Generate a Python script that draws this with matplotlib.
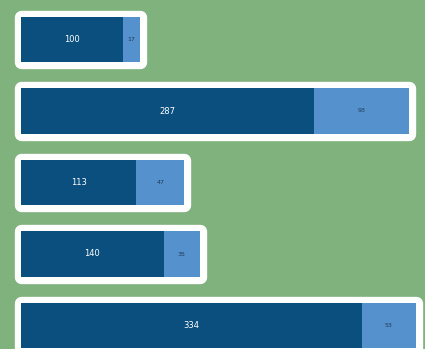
import numpy as np
import matplotlib
matplotlib.use("Agg")
import matplotlib.pyplot as plt

# values
main_vals = [100, 287, 113, 140, 334]
extra_vals = [17, 93, 47, 35, 53]

BG = "#80b27d"
DARK = "#0a4f7e"
LIGHT = "#5591cc"

W, H, DPI = 425, 349, 100
fig = plt.figure(figsize=(W / DPI, H / DPI), dpi=DPI, facecolor=BG)
ax = fig.add_axes([0, 0, 1, 1])
ax.set_facecolor(BG)

y = np.arange(len(main_vals))
main = np.array(main_vals, dtype=float)
extra = np.array(extra_vals, dtype=float)
total = main + extra
bar_h = 0.63

# white rounded frame behind each bar
ax.barh(y, total, height=bar_h, color="white", edgecolor="white",
        linewidth=9.6, joinstyle="round", zorder=1)

ax.barh(y, main, height=bar_h, color=DARK, linewidth=0, zorder=2)
ax.barh(y, extra, left=main, height=bar_h, color=LIGHT, linewidth=0, zorder=2)

for yi, m, e in zip(y, main, extra):
    ax.text(m / 2, yi, f"{int(m)}", color="white", fontsize=6,
            ha="center", va="center", zorder=3)
    ax.text(m + e / 2, yi, f"{int(e)}", color="#1f3a5c", fontsize=4.5,
            ha="center", va="center", zorder=3)

# map data to pixel layout of the reference
px_per_unit = 1.02
x0_px = 21
ax.set_xlim(-x0_px / px_per_unit, (W - x0_px) / px_per_unit)
pitch = 71.5
c0 = 39.5
ax.set_ylim((H - c0) / pitch, -c0 / pitch)
ax.axis("off")

fig.savefig("out.png", dpi=DPI, facecolor=BG)
